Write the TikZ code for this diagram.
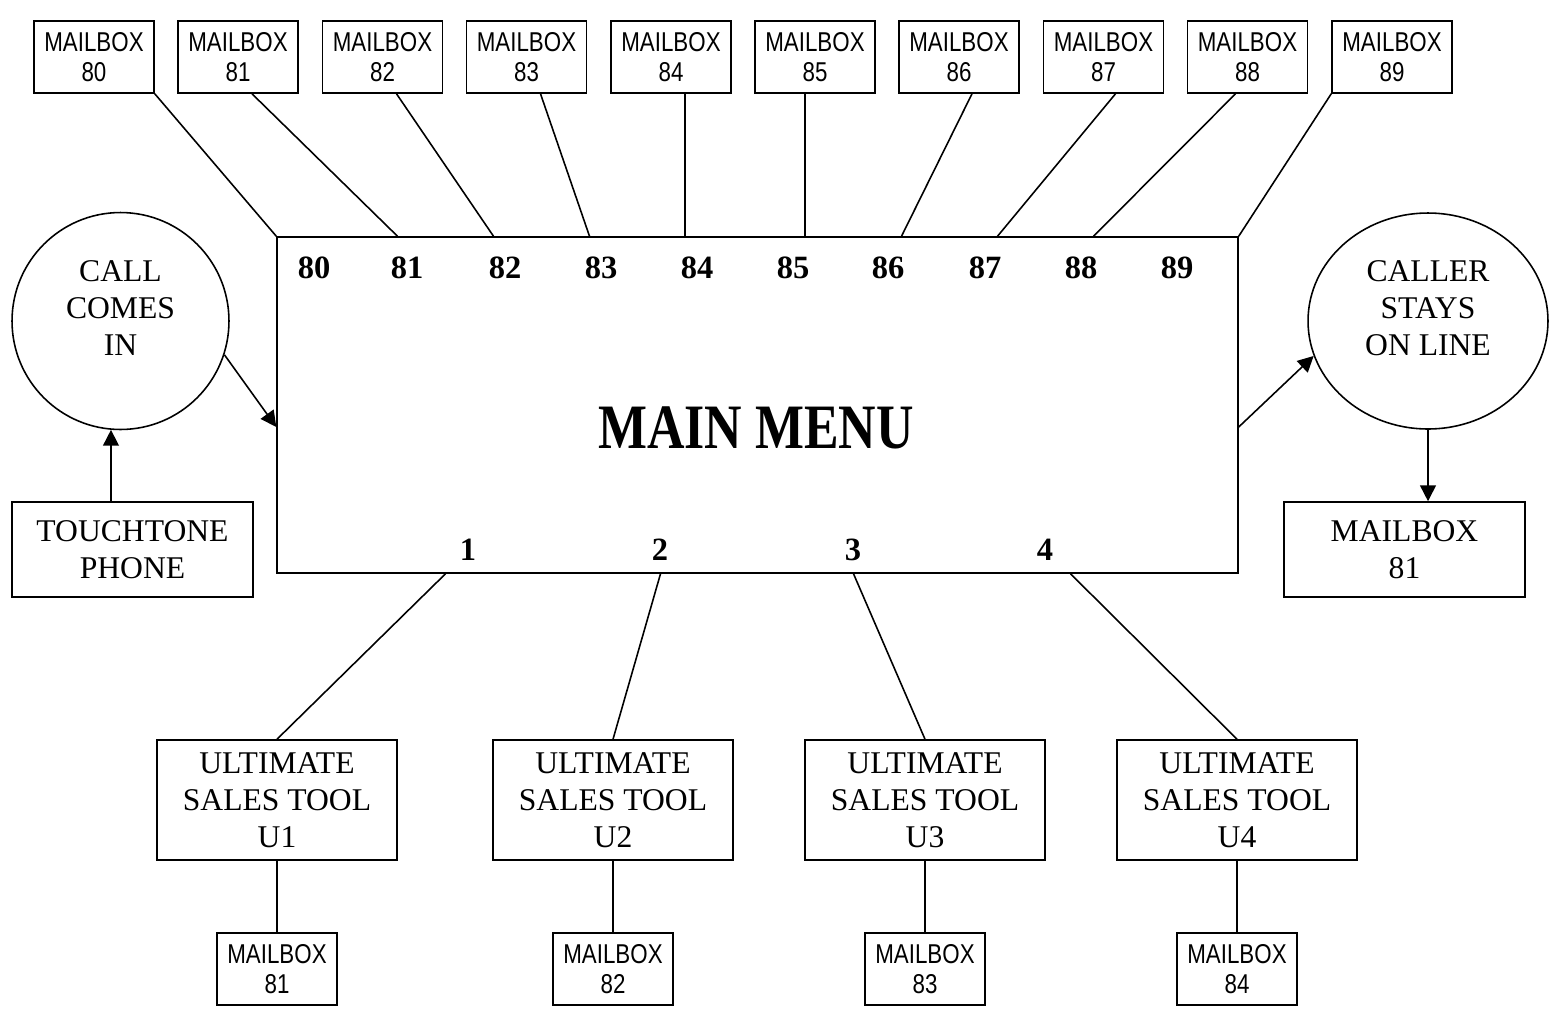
\documentclass[tikz,border=0pt]{standalone}
\usepackage{fontspec}
\setmainfont{Liberation Serif}
\newfontfamily\narrowfont[FakeStretch=0.82]{Liberation Sans}
\newfontfamily\menufont[FakeStretch=0.82]{Liberation Serif}
\usetikzlibrary{arrows.meta,calc,positioning,shapes.geometric}

\begin{document}
\begin{tikzpicture}[x=0.02cm, y=-0.02cm,
    line width=0.9pt,
    >={Triangle[length=9pt,width=9pt]},
    every text node part/.style={align=center},
    mb/.style = {draw, font=\narrowfont\fontsize{15.5}{17}\selectfont, minimum width=2.4cm, minimum height=1.44cm, inner sep=0pt},
    big/.style = {draw, font=\fontsize{18}{21}\selectfont, inner sep=0pt},
    num/.style = {font=\bfseries\fontsize{18.5}{20}\selectfont, inner sep=0pt}
  ]
  \useasboundingbox (0,0) rectangle (1551,1015);

  % mailboxes along the top
  \node[mb] (mb80) at (94,57)     {MAILBOX\\80};
  \node[mb] (mb81) at (238,57)    {MAILBOX\\81};
  \node[mb] (mb82) at (382.5,57)  {MAILBOX\\82};
  \node[mb] (mb83) at (526.5,57)  {MAILBOX\\83};
  \node[mb] (mb84) at (671,57)    {MAILBOX\\84};
  \node[mb] (mb85) at (815,57)    {MAILBOX\\85};
  \node[mb] (mb86) at (959,57)    {MAILBOX\\86};
  \node[mb] (mb87) at (1103.5,57) {MAILBOX\\87};
  \node[mb] (mb88) at (1247.5,57) {MAILBOX\\88};
  \node[mb] (mb89) at (1392,57)   {MAILBOX\\89};

  % main menu
  \node[draw, minimum width=19.22cm, minimum height=6.72cm] (menu) at (757.5,405) {};
  \node[font=\menufont\bfseries\fontsize{36}{40}\selectfont] (title) at (756,428) {MAIN MENU};

  \node[num] (k80) at (314,268)  {80};
  \node[num] (k81) at (407,268)  {81};
  \node[num] (k82) at (505,268)  {82};
  \node[num] (k83) at (601,268)  {83};
  \node[num] (k84) at (697,268)  {84};
  \node[num] (k85) at (793,268)  {85};
  \node[num] (k86) at (888,268)  {86};
  \node[num] (k87) at (985,268)  {87};
  \node[num] (k88) at (1081,268) {88};
  \node[num] (k89) at (1177,268) {89};

  \node[num] (o1) at (468,550)  {1};
  \node[num] (o2) at (660,550)  {2};
  \node[num] (o3) at (853,550)  {3};
  \node[num] (o4) at (1045,550) {4};

  % left and right side
  \node[big, circle, minimum size=4.34cm, text depth=15pt] (call) at (120.5,321) {CALL\\COMES\\IN};
  \node[big, minimum width=4.82cm, minimum height=1.9cm] (phone) at (132.5,549.5) {TOUCHTONE\\PHONE};
  \node[big, ellipse, minimum width=4.8cm, minimum height=4.32cm, text depth=15pt] (stay) at (1428,321) {CALLER\\STAYS\\ON LINE};
  \node[big, minimum width=4.82cm, minimum height=1.9cm] (mbstay) at (1404.5,549.5) {MAILBOX\\81};

  % sales tools along the bottom
  \node[big, minimum width=4.8cm, minimum height=2.4cm] (ust1) at (277,800)  {ULTIMATE\\SALES TOOL\\U1};
  \node[big, minimum width=4.8cm, minimum height=2.4cm] (ust2) at (613,800)  {ULTIMATE\\SALES TOOL\\U2};
  \node[big, minimum width=4.8cm, minimum height=2.4cm] (ust3) at (925,800)  {ULTIMATE\\SALES TOOL\\U3};
  \node[big, minimum width=4.8cm, minimum height=2.4cm] (ust4) at (1237,800) {ULTIMATE\\SALES TOOL\\U4};

  \node[mb] (mbu1) at (277,969)  {MAILBOX\\81};
  \node[mb] (mbu2) at (613,969)  {MAILBOX\\82};
  \node[mb] (mbu3) at (925,969)  {MAILBOX\\83};
  \node[mb] (mbu4) at (1237,969) {MAILBOX\\84};

  % connectors
  \draw (mb80.south east) -- (menu.north west);
  \draw ($(mb81.south)+(14,0)$) -- ($(menu.north)+(-360,0)$);
  \draw ($(mb82.south)+(14,0)$) -- ($(menu.north)+(-264,0)$);
  \draw ($(mb83.south)+(14,0)$) -- ($(menu.north)+(-168,0)$);
  \draw ($(mb84.south)+(14,0)$) -- ($(menu.north)+(-72.5,0)$);
  \draw ($(mb85.south)+(-10,0)$) -- ($(menu.north)+(47.5,0)$);
  \draw ($(mb86.south)+(13,0)$) -- ($(menu.north)+(144,0)$);
  \draw ($(mb87.south)+(12,0)$) -- ($(menu.north)+(240,0)$);
  \draw ($(mb88.south)+(-12,0)$) -- ($(menu.north)+(336,0)$);
  \draw (mb89.south west) -- (menu.north east);

  \draw ($(menu.south)+(-312,0)$) -- (ust1.north);
  \draw ($(menu.south)+(-97,0)$) -- (ust2.north);
  \draw ($(menu.south)+(96,0)$) -- (ust3.north);
  \draw ($(menu.south)+(313,0)$) -- (ust4.north);

  \draw (ust1.south) -- (mbu1.north);
  \draw (ust2.south) -- (mbu2.north);
  \draw (ust3.south) -- (mbu3.north);
  \draw (ust4.south) -- (mbu4.north);

  \draw[->] (phone.north -| call.265) -- (call.265);
  \draw[->] (call.-18) -- ($(menu.west)+(0,22)$);
  \draw[->] ($(menu.east)+(0,22)$) -- (stay.197);
  \draw[->] (stay.south) -- (stay.south |- mbstay.north);
\end{tikzpicture}
\end{document}
